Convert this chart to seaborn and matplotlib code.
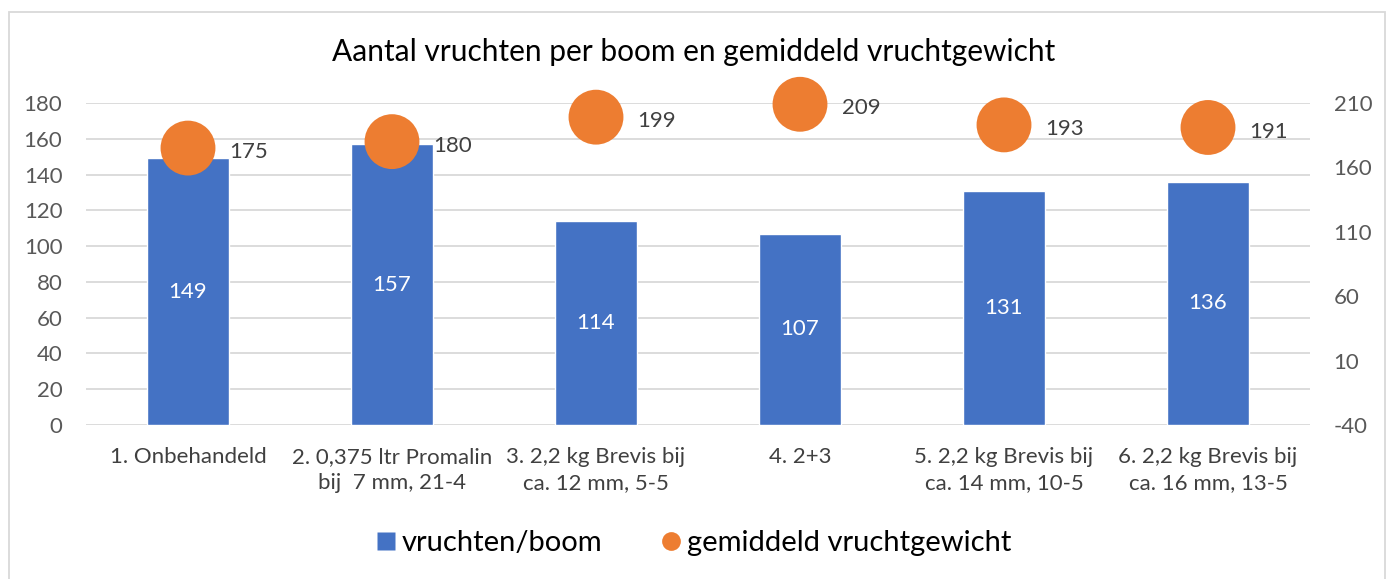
import numpy as np
import matplotlib
matplotlib.use("Agg")
import matplotlib.pyplot as plt
from matplotlib.lines import Line2D
from matplotlib.patches import Rectangle
import seaborn as sns

categories = [
    "1. Onbehandeld",
    "2. 0,375 ltr Promalin\nbij  7 mm, 21-4",
    "3. 2,2 kg Brevis bij\nca. 12 mm, 5-5",
    "4. 2+3",
    "5. 2,2 kg Brevis bij\nca. 14 mm, 10-5",
    "6. 2,2 kg Brevis bij\nca. 16 mm, 13-5",
]
fruits_per_tree = [149, 157, 114, 107, 131, 136]
mean_fruit_weight = [175, 180, 199, 209, 193, 191]
left_ticks = [0, 20, 40, 60, 80, 100, 120, 140, 160, 180]
right_ticks = [-40, 10, 60, 110, 160, 210]
title = "Aantal vruchten per boom en gemiddeld vruchtgewicht"
series_names = ["vruchten/boom", "gemiddeld vruchtgewicht"]

BLUE = "#4472C4"
ORANGE = "#ED7D31"
GRID = "#D9D9D9"
TICK = "#595959"

sns.set_theme(style="white")
plt.rcParams["font.family"] = ["Lato", "DejaVu Sans"]
plt.rcParams["axes.unicode_minus"] = False

fig = plt.figure(figsize=(13.87, 5.79), dpi=100)
fig.patch.set_facecolor("white")
fig.patches.append(Rectangle((9 / 1387, -0.01), 1376 / 1387, 1 - 12 / 579 + 0.01,
                             transform=fig.transFigure, fill=False,
                             edgecolor=GRID, lw=1.3, zorder=0))

ax = fig.add_axes([86 / 1387, 1 - 425 / 579, 1224 / 1387, 322 / 579])
pos = np.arange(len(categories))

sns.barplot(x=pos, y=fruits_per_tree, color=BLUE, width=0.4, saturation=1,
            ax=ax, native_scale=True, zorder=2)
ax.set_xlim(-0.5, len(categories) - 0.5)
ax.set_ylim(left_ticks[0], left_ticks[-1])
ax.set_yticks(left_ticks)
ax.set_xticks(pos)
ax.set_xticklabels(categories, fontsize=16, color="#404040", linespacing=1.35)
ax.tick_params(axis="x", length=0, pad=16)
ax.tick_params(axis="y", length=0, pad=17, labelsize=16, labelcolor=TICK)
ax.yaxis.grid(True, color=GRID, lw=1.3, zorder=0)
ax.set_axisbelow(True)
for s in ax.spines.values():
    s.set_visible(False)
ax.set_xlabel("")
ax.set_ylabel("")

for p, v in zip(pos, fruits_per_tree):
    ax.text(p, v / 2, str(v), ha="center", va="center", color="white", fontsize=16, zorder=3)

ax2 = ax.twinx()
sns.scatterplot(x=pos, y=mean_fruit_weight, ax=ax2, s=1560, color=ORANGE,
                edgecolor="none", linewidth=0, legend=False, clip_on=False, zorder=4)
ax2.set_ylim(right_ticks[0], right_ticks[-1])
ax2.set_yticks(right_ticks)
ax2.tick_params(axis="y", length=0, pad=17, labelsize=16, labelcolor=TICK)
for s in ax2.spines.values():
    s.set_visible(False)
ax2.set_xlabel("")
ax2.set_ylabel("")
ax2.grid(False)

for p, v in zip(pos, mean_fruit_weight):
    ax2.annotate(str(v), (p, v), xytext=(30, -3), textcoords="offset points",
                 ha="left", va="center", fontsize=16, color="#404040", zorder=5)

fig.text(0.5, 1 - 52 / 579, title, ha="center", va="center", fontsize=21.5, color="#000000")

handles = [
    Line2D([], [], marker="s", color="none", markerfacecolor=BLUE, markeredgecolor="none", markersize=13),
    Line2D([], [], marker="o", color="none", markerfacecolor=ORANGE, markeredgecolor="none", markersize=13.5),
]
fig.legend(handles, series_names, loc="center", bbox_to_anchor=(0.5, 1 - 543 / 579),
           ncol=2, frameon=False, fontsize=21, handlelength=0.7, handletextpad=0.2,
           columnspacing=2.0, labelcolor="#000000")

fig.savefig("out.png", dpi=100, facecolor="white")
